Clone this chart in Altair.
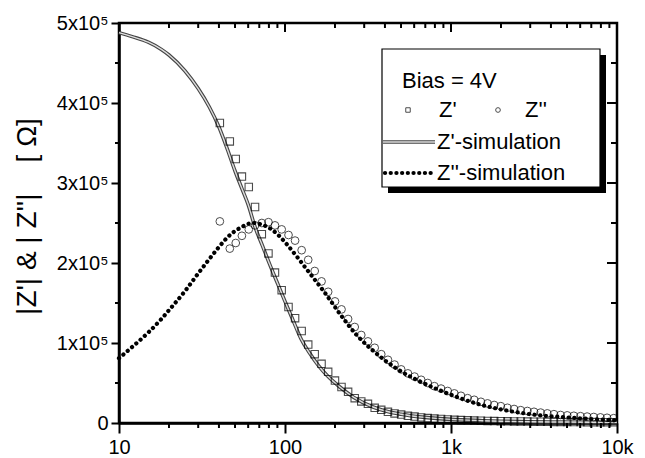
import altair as alt
import pandas as pd

# ---------------- data (values of |Z| in units of 1e5 Ohm) ----------------
# Z'-simulation (double grey line)
sim_re_f = [10, 12, 15, 18, 20, 25, 30, 35, 40, 45, 50, 55, 60, 66, 73, 81, 90, 100,
            112, 125, 140, 160, 180, 214, 260, 339, 420, 500, 700, 1000, 1500, 2000,
            3000, 5000, 7000, 10000]
sim_re_v = [4.88, 4.83, 4.76, 4.67, 4.60, 4.40, 4.18, 3.95, 3.70, 3.42, 3.15, 2.93,
            2.73, 2.45, 2.22, 1.98, 1.75, 1.52, 1.28, 1.05, 0.88, 0.71, 0.59, 0.45,
            0.32, 0.20, 0.14, 0.11, 0.07, 0.045, 0.03, 0.022, 0.016, 0.012, 0.010, 0.008]

# Z''-simulation (black dotted line)
sim_im_f = [10, 12, 15, 18, 20, 25, 30, 35, 40, 45, 50, 55, 60, 65, 70, 80, 90, 100,
            120, 140, 175, 215, 270, 350, 470, 650, 900, 1100, 1500, 2000, 3000, 5000,
            7000, 10000]
sim_im_v = [0.81, 0.95, 1.13, 1.30, 1.41, 1.65, 1.87, 2.05, 2.20, 2.32, 2.40, 2.45,
            2.49, 2.50, 2.49, 2.44, 2.36, 2.26, 2.06, 1.88, 1.62, 1.36, 1.10, 0.88,
            0.68, 0.52, 0.39, 0.32, 0.23, 0.17, 0.11, 0.07, 0.05, 0.035]

# measured points
meas_f = [40.5, 46.5, 50.5, 55, 60.5, 66, 72.5, 79.5, 87, 95.5, 105, 115, 126, 138, 151,
          166, 182, 200, 219, 240, 263, 288, 316, 347, 380, 417, 457, 501, 550, 603,
          661, 724, 794, 871, 955, 1047, 1148, 1259, 1380, 1514, 1660, 1820, 1995,
          2188, 2399, 2630, 2884, 3162, 3467, 3802, 4169, 4571, 5012, 5495, 6026,
          6607, 7244, 7943, 8710, 9550]
z_re = [3.75, 3.52, 3.30, 3.08, 2.95, 2.70, 2.36, 2.12, 1.88, 1.66, 1.45, 1.31, 1.15,
        0.98, 0.86, 0.74, 0.64, 0.53, 0.45, 0.39, 0.31, 0.27, 0.24, 0.19, 0.165, 0.14,
        0.12, 0.105, 0.09, 0.08, 0.07, 0.062, 0.055, 0.05, 0.045, 0.04, 0.036, 0.033,
        0.03, 0.028, 0.026, 0.024, 0.022, 0.021, 0.02, 0.019, 0.018, 0.017, 0.016,
        0.015, 0.014, 0.013, 0.013, 0.012, 0.012, 0.011, 0.011, 0.01, 0.01, 0.01]
z_im = [2.52, 2.18, 2.25, 2.34, 2.42, 2.47, 2.50, 2.51, 2.47, 2.42, 2.35, 2.28, 2.16,
        2.04, 1.90, 1.77, 1.64, 1.52, 1.42, 1.30, 1.20, 1.10, 1.02, 0.94, 0.86, 0.79,
        0.73, 0.67, 0.62, 0.58, 0.54, 0.50, 0.46, 0.43, 0.40, 0.37, 0.34, 0.31, 0.29,
        0.265, 0.245, 0.225, 0.21, 0.19, 0.175, 0.16, 0.15, 0.14, 0.13, 0.12, 0.11,
        0.10, 0.095, 0.09, 0.085, 0.08, 0.075, 0.07, 0.065, 0.06]

# axis ticks
x_major = [10, 100, 1000, 10000]
x_minor = [20, 30, 40, 50, 60, 70, 80, 90, 200, 300, 400, 500, 600, 700, 800, 900,
           2000, 3000, 4000, 5000, 6000, 7000, 8000, 9000]
top_major = [100, 1000]
y_major = [0, 1, 2, 3, 4, 5]
y_minor = [0.5, 1.5, 2.5, 3.5, 4.5]
right_major = [1, 2, 3, 4]

legend_title = "Bias = 4V"
lab_re = "Z'"
lab_im = "Z''"
lab_sim_re = "Z'-simulation"
lab_sim_im = "Z''-simulation"
y_title = "|Z'| & | Z''|\u00a0\u00a0\u00a0\u00a0[ \u03a9]"

# ---------------- chart ----------------
W, H = 498, 400
FONT = "Liberation Sans"
xs = alt.Scale(type="log", domain=[10, 10000])
ys = alt.Scale(domain=[0, 5])

df_sre = pd.DataFrame({"f": sim_re_f, "v": sim_re_v})
df_sim = pd.DataFrame({"f": sim_im_f, "v": sim_im_v})
df_meas = pd.DataFrame({"f": meas_f, "re": z_re, "im": z_im})
one = pd.DataFrame({"k": [0]})

x_axis = alt.Axis(
    values=x_major, title=None, grid=False,
    labelExpr="datum.value >= 1000 ? (datum.value/1000) + 'k' : '' + datum.value",
    tickSize=10, tickWidth=2, domainWidth=2.5, labelFontSize=20, labelPadding=4,
    labelOverlap=False, labelFlush=False, labelFont=FONT, labelColor="black",
)
y_axis = alt.Axis(
    values=y_major, grid=False, title=y_title,
    labelExpr="datum.value == 0 ? '0' : datum.value + 'x10\u2075'",
    tickSize=8, tickWidth=2, domainWidth=2.5, labelFontSize=20, labelPadding=3,
    labelOverlap=False, labelFlush=False, labelFont=FONT, labelColor="black",
    titleFont=FONT, titleFontSize=28, titleFontWeight="normal", titleColor="black",
    titleAngle=270, titleX=-92, titleY=193, titleAlign="center", titleBaseline="middle",
)

sim_re_dark = alt.Chart(df_sre).mark_line(color="#444444", strokeWidth=3.6, interpolate="monotone").encode(
    x=alt.X("f:Q", scale=xs, axis=x_axis),
    y=alt.Y("v:Q", scale=ys, axis=y_axis),
)
sim_re_light = alt.Chart(df_sre).mark_line(color="#dddddd", strokeWidth=1.4, interpolate="monotone").encode(
    x=alt.X("f:Q", scale=xs),
    y=alt.Y("v:Q", scale=ys),
)
squares = alt.Chart(df_meas).mark_point(shape="square", size=55, filled=False, color="black", strokeWidth=1.1).encode(
    x=alt.X("f:Q", scale=xs),
    y=alt.Y("re:Q", scale=ys),
)
circles = alt.Chart(df_meas).mark_point(shape="circle", size=60, filled=False, color="black", strokeWidth=1.0).encode(
    x=alt.X("f:Q", scale=xs),
    y=alt.Y("im:Q", scale=ys),
)
sim_im = alt.Chart(df_sim).mark_line(color="black", strokeWidth=4.2, strokeDash=[0.1, 5.6],
                                     strokeCap="round", interpolate="monotone").encode(
    x=alt.X("f:Q", scale=xs),
    y=alt.Y("v:Q", scale=ys),
)

# extra ticks (minor outward on bottom/left, inward on top/right)
bot_min = alt.Chart(pd.DataFrame({"f": x_minor})).mark_rule(color="black", strokeWidth=2).encode(
    x=alt.X("f:Q", scale=xs), y=alt.value(H), y2=alt.value(H + 5))
left_min = alt.Chart(pd.DataFrame({"v": y_minor})).mark_rule(color="black", strokeWidth=2).encode(
    y=alt.Y("v:Q", scale=ys), x=alt.value(0), x2=alt.value(-4))
top_min = alt.Chart(pd.DataFrame({"f": x_minor})).mark_rule(color="black", strokeWidth=2).encode(
    x=alt.X("f:Q", scale=xs), y=alt.value(0), y2=alt.value(5))
top_maj = alt.Chart(pd.DataFrame({"f": top_major})).mark_rule(color="black", strokeWidth=2).encode(
    x=alt.X("f:Q", scale=xs), y=alt.value(0), y2=alt.value(9))
right_min = alt.Chart(pd.DataFrame({"v": y_minor})).mark_rule(color="black", strokeWidth=2).encode(
    y=alt.Y("v:Q", scale=ys), x=alt.value(W), x2=alt.value(W - 6))
right_maj = alt.Chart(pd.DataFrame({"v": right_major})).mark_rule(color="black", strokeWidth=2).encode(
    y=alt.Y("v:Q", scale=ys), x=alt.value(W), x2=alt.value(W - 10))

# legend box
base1 = alt.Chart(one)
shadow = base1.mark_rect(color="black").encode(
    x=alt.value(269), x2=alt.value(487), y=alt.value(32), y2=alt.value(170))
box = base1.mark_rect(fill="white", stroke="black", strokeWidth=1.2).encode(
    x=alt.value(263), x2=alt.value(481), y=alt.value(26), y2=alt.value(164))


def ltext(s, x, y):
    return base1.mark_text(align="left", baseline="middle", font=FONT, fontSize=22, color="black").encode(
        x=alt.value(x), y=alt.value(y), text=alt.value(s))


leg_title = ltext(legend_title, 283, 58)
leg_sq = base1.mark_point(shape="square", size=20, filled=False, color="black", strokeWidth=1).encode(
    x=alt.value(289), y=alt.value(87))
leg_sq_t = ltext(lab_re, 320, 87)
leg_ci = base1.mark_point(shape="circle", size=22, filled=False, color="black", strokeWidth=1).encode(
    x=alt.value(379), y=alt.value(87))
leg_ci_t = ltext(lab_im, 406, 87)
leg_l1 = base1.mark_rule(color="#444444", strokeWidth=3.6).encode(
    x=alt.value(264), x2=alt.value(316), y=alt.value(119))
leg_l2 = base1.mark_rule(color="#dddddd", strokeWidth=1.4).encode(
    x=alt.value(264), x2=alt.value(316), y=alt.value(119))
leg_l1_t = ltext(lab_sim_re, 318, 119)
leg_d = base1.mark_rule(color="black", strokeWidth=4.2, strokeDash=[0.1, 5.6], strokeCap="round").encode(
    x=alt.value(266), x2=alt.value(314), y=alt.value(150))
leg_d_t = ltext(lab_sim_im, 318, 150)

chart = alt.layer(
    sim_re_dark, sim_re_light, squares, circles, sim_im,
    bot_min, left_min, top_min, top_maj, right_min, right_maj,
    shadow, box, leg_title, leg_sq, leg_sq_t, leg_ci, leg_ci_t,
    leg_l1, leg_l2, leg_l1_t, leg_d, leg_d_t,
).properties(
    width=W, height=H,
    autosize=alt.AutoSizeParams(type="none"),
    padding={"left": 111, "top": 15, "right": 20, "bottom": 35},
).configure_view(
    stroke="black", strokeWidth=2.5
).configure_axis(
    domainColor="black", tickColor="black"
)

chart.save("out.html", embed_options={"renderer": "svg", "actions": False})
